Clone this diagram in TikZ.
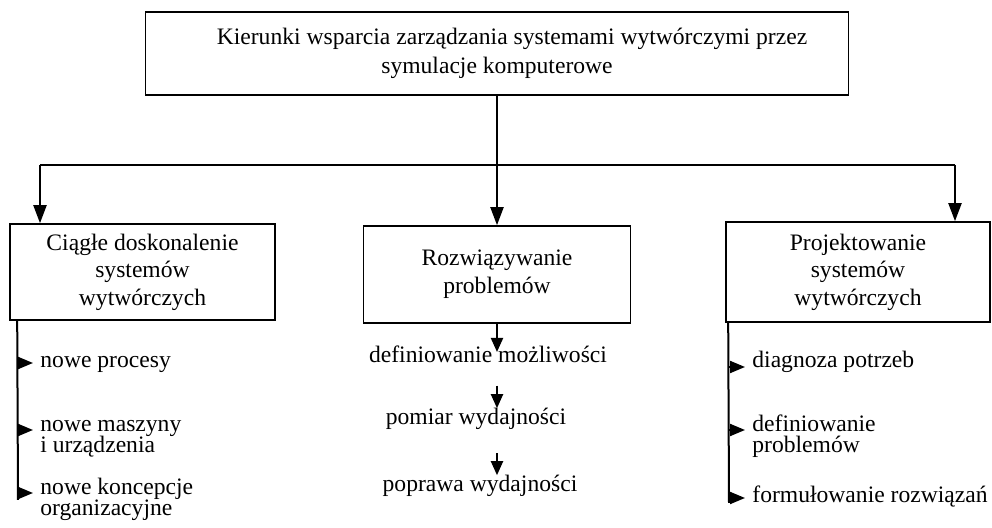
\documentclass[tikz,border=0pt]{standalone}
\usepackage{fontspec}
\setmainfont{Liberation Serif}
\usetikzlibrary{positioning, arrows.meta}

\begin{document}
\begin{tikzpicture}[
    x=0.5pt, y=-0.5pt,
    >={Triangle[length=9pt,width=6.5pt]},
    every node/.style={font=\fontsize{11.8}{13.8}\selectfont},
    box/.style={draw, line width=0.8pt, align=center, inner sep=0pt},
    item/.style={align=left, inner sep=0pt, anchor=base west, font=\fontsize{11.8}{10.9}\selectfont},
    midtext/.style={inner sep=0pt, anchor=base},
    main/.style={->, line width=1pt},
    stepline/.style={-{Triangle[length=7pt,width=6pt]}, line width=1pt},
    tick/.style={-{Triangle[length=7.5pt,width=6pt]}, line width=1pt, shorten >=3.5pt}
]
    \useasboundingbox (0,0) rectangle (992,528);

    \node[box, minimum width=351.5pt, minimum height=41.5pt, font=\fontsize{11.8}{14.5}\selectfont] (K) at (497,53.5)
        {\hspace*{15pt}Kierunki wsparcia zarządzania systemami wytwórczymi przez\\symulacje komputerowe};
    \node[box, minimum width=132.5pt, minimum height=48pt] (C) at (142.5,272) {Ciągłe doskonalenie\\systemów\\wytwórczych};
    \node[box, minimum width=133.5pt, minimum height=48.5pt] (R) at (497,274.5) {Rozwiązywanie\\problemów};
    \node[box, minimum width=132pt, minimum height=50pt] (P) at (858,272) {Projektowanie\\systemów\\wytwórczych};

    % branches from the top box
    \coordinate (hl) at (40,165);
    \coordinate (hr) at (955,165);
    \draw[line width=1pt] (hl) -- (hr);
    \draw[main] (K) -- (R);
    \draw[main] (hl) -- (hl |- C.north);
    \draw[main] (hr) -- (hr |- P.north);

    % left column
    \node[item] (C1) at (40,368) {nowe procesy};
    \node[item] (C2) at (40,453) {nowe maszyny\\i urządzenia};
    \node[item] (C3) at (40,516) {nowe koncepcje\\organizacyjne};
    \coordinate (Ca) at ([xshift=4pt]C.south west);
    \coordinate (Cb) at (18,500);
    \coordinate (c1) at (18,363);
    \coordinate (c2) at (18,430);
    \coordinate (c3) at (18,493);
    \draw[line width=1pt] (Ca) -- (Cb);
    \draw[tick] (c1) -- (c1 -| C1.west);
    \draw[tick] (c2) -- (c2 -| C2.west);
    \draw[tick] (c3) -- (c3 -| C3.west);

    % middle column
    \node[midtext] (R1) at (488,363) {definiowanie możliwości};
    \node[midtext] (R2) at (476,425) {pomiar wydajności};
    \node[midtext] (R3) at (480,492) {poprawa wydajności};
    \draw[stepline] (R.south) -- ([yshift=-3pt]R.south |- R1.north);
    \draw[stepline] ([yshift=-11pt]R1.south -| R.south) -- (R2.north -| R.south);
    \draw[stepline] ([yshift=-11.5pt]R2.south -| R.south) -- (R3.north -| R.south);

    % right column
    \node[item] (P1) at (752,368) {diagnoza potrzeb};
    \node[item] (P2) at (752,453) {definiowanie\\problemów};
    \node[item] (P3) at (752,503) {formułowanie rozwiązań};
    \coordinate (Pa) at ([xshift=1.5pt]P.south west);
    \coordinate (Pb) at (729,503);
    \coordinate (p1) at (729,367);
    \coordinate (p2) at (729,430);
    \coordinate (p3) at (729,498);
    \draw[line width=1pt] (Pa) -- (Pb);
    \draw[tick] (p1) -- (p1 -| P1.west);
    \draw[tick] (p2) -- (p2 -| P2.west);
    \draw[tick] (p3) -- (p3 -| P3.west);
\end{tikzpicture}
\end{document}
